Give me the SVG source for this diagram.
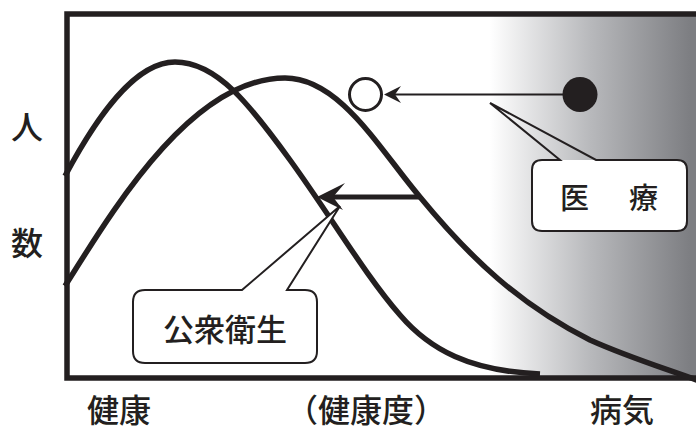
<svg xmlns="http://www.w3.org/2000/svg" width="696" height="432" viewBox="0 0 696 432">
<style>
.t{font-family:"Noto Sans CJK JP","Noto Sans",sans-serif;fill:#231f20;font-weight:500}
.curve{fill:none;stroke:#231f20;stroke-width:5.5}
.frame{fill:none;stroke:#231f20;stroke-width:5.5}
.box{fill:#fff;stroke:none}
.outline{fill:none;stroke:#231f20;stroke-width:2}
</style>
<defs>
<linearGradient id="g" x1="490" y1="0" x2="690" y2="0" gradientUnits="userSpaceOnUse">
<stop offset="0" stop-color="#ffffff"/>
<stop offset="0.5" stop-color="#b8b9bc"/>
<stop offset="1" stop-color="#7d7e82"/>
</linearGradient>
</defs>
<rect width="696" height="432" fill="#fff"/>
<rect x="490" y="14" width="206" height="364" fill="url(#g)"/>
<g id="frame">
<path class="frame" d="M696,14 L67,14 L67,378 L696,378"/>
</g>
<g id="curve-healthy">
<path class="curve" d="M65,176 C97,116 135,62 175,62 C217,62 250,105 290,160 C330,215 365,275 400,315 C430,350 470,371 540,374"/>
</g>
<g id="curve-shifted">
<path class="curve" d="M65,286 C110,215 190,78 285,78 C340,78 380,150 420,197 C470,258 520,305 590,340 C630,358 670,370 702,382"/>
</g>
<g id="connectors">
<line x1="420" y1="197" x2="330" y2="197" stroke="#231f20" stroke-width="5"/>
<path d="M317,197 L345,183 L333,197 L343,210 Z" fill="#231f20"/>
<line x1="580" y1="94.5" x2="392" y2="94.5" stroke="#231f20" stroke-width="2"/>
<path d="M384,94.5 L401,86 L395,94.5 L401,103 Z" fill="#231f20"/>
</g>
<g id="open-circle">
<circle cx="365.5" cy="94.5" r="16" fill="#fff" stroke="#231f20" stroke-width="3"/>
</g>
<g id="filled-circle">
<circle cx="580" cy="94.5" r="17.5" fill="#231f20"/>
</g>
<g id="callout-iryo">
<rect class="box" x="532" y="160" width="155" height="71" rx="10"/>
<path class="outline" d="M560,160 L490,103 L596,160 L677,160 Q687,160 687,170 L687,221 Q687,231 677,231 L542,231 Q532,231 532,221 L532,170 Q532,160 542,160 Z"/>
<text class="t" font-size="29" y="209"><tspan x="560">医</tspan><tspan x="629">療</tspan></text>
</g>
<g id="callout-koshu">
<path d="M242,290 L340,206 L287,290 Z" fill="#fff"/>
<rect class="box" x="133" y="290" width="184" height="73" rx="12"/>
<path class="outline" d="M242,290 L340,206 L287,290 L305,290 Q317,290 317,302 L317,351 Q317,363 305,363 L145,363 Q133,363 133,351 L133,302 Q133,290 145,290 Z"/>
<text class="t" font-size="31" x="225" y="341" text-anchor="middle">公衆衛生</text>
</g>
<g id="labels">
<text class="t" font-size="32" x="27" y="139" text-anchor="middle">人</text>
<text class="t" font-size="32" x="27" y="255" text-anchor="middle">数</text>
<text class="t" font-size="32" x="119" y="422" text-anchor="middle">健康</text>
<text class="t" font-size="32" x="366" y="422" text-anchor="middle">（健康度）</text>
<text class="t" font-size="32" x="622" y="422" text-anchor="middle">病気</text>
</g>
</svg>
